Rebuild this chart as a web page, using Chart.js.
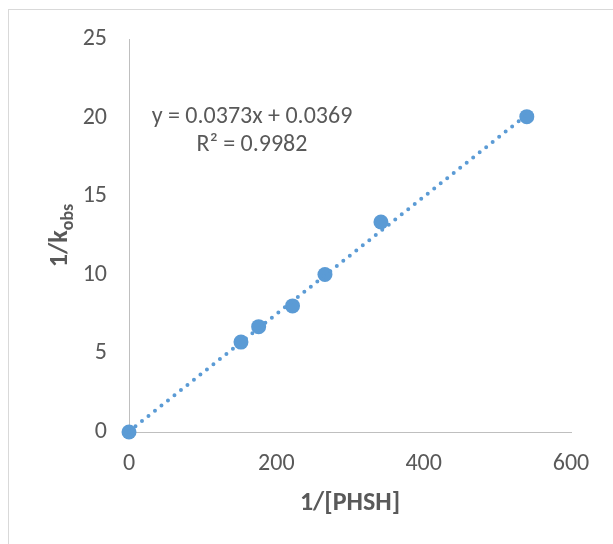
<!DOCTYPE html>
<html>
<head>
<meta charset="utf-8">
<script src="https://cdn.jsdelivr.net/npm/chart.js@4"></script>
<style>
  html, body { margin: 0; padding: 0; background: #fff; }
  canvas { display: block; }
</style>
</head>
<body>
<canvas id="myChart" width="613" height="544"></canvas>
<script>
// data
const phsh = [0, 152, 176, 222, 266, 342, 540];      // 1/[PHSH]
const kobs = [0, 5.72, 6.70, 8.02, 10.02, 13.36, 20.06]; // 1/kobs
// trendline as printed on the chart
const slope = 0.0373;
const intercept = 0.0369;
const fitX = [0, 540];
const eqLines = ['y = 0.0373x + 0.0369', 'R\u00b2 = 0.9982'];

const xTicks = [0, 200, 400, 600];
const yTicks = [0, 5, 10, 15, 20, 25];

const blue = '#5b9bd5';
const grey = '#595959';
const fontFam = 'Carlito, Calibri, Lato, sans-serif';

let points = phsh.map(function(v, i) { return {x: v, y: kobs[i]}; });
let fit = fitX.map(function(v) { return {x: v, y: slope * v + intercept}; });

// chart border, y title with subscript, equation label
const extras = {
  id: 'extras',
  beforeDraw(chart) {
    const c = chart.ctx;
    c.save();
    c.fillStyle = '#fff';
    c.fillRect(0, 0, chart.width, chart.height);
    c.strokeStyle = '#d9d9d9';
    c.lineWidth = 1;
    c.strokeRect(8.5, 9.5, 800, 800);
    c.restore();
  },
  afterDraw(chart) {
    const c = chart.ctx;
    const area = chart.chartArea;
    c.save();
    // y axis title 1/k_obs
    c.translate(62, (area.top + area.bottom) / 2);
    c.rotate(-Math.PI / 2);
    c.fillStyle = grey;
    c.textBaseline = 'alphabetic';
    const main = 'bold 26px ' + fontFam;
    const sub = 'bold 18px ' + fontFam;
    c.font = main;
    const w1 = c.measureText('1/k').width;
    c.font = sub;
    const w2 = c.measureText('obs').width;
    let x0 = -(w1 + w2) / 2;
    c.font = main;
    c.fillText('1/k', x0, 5);
    c.font = sub;
    c.fillText('obs', x0 + w1, 11);
    c.restore();

    // trendline equation
    c.save();
    c.fillStyle = grey;
    c.font = '24px ' + fontFam;
    c.textAlign = 'center';
    c.textBaseline = 'middle';
    c.fillText(eqLines[0], 252, 117);
    c.fillText(eqLines[1], 252, 145);
    c.restore();
  }
};

var ctx = document.getElementById('myChart');
var myChart = new Chart(ctx, {
  type: 'scatter',
  data: {
    datasets: [{
      label: 'fit',
      data: fit,
      showLine: true,
      borderColor: blue,
      borderWidth: 4,
      borderDash: [0, 8.3],
      borderCapStyle: 'round',
      pointRadius: 0,
      clip: false,
      order: 0
    }, {
      label: '1/kobs',
      data: points,
      backgroundColor: blue,
      borderColor: blue,
      borderWidth: 0,
      pointRadius: 7.5,
      clip: false,
      order: 1
    }]
  },
  options: {
    responsive: false,
    devicePixelRatio: 1,
    animation: false,
    layout: { padding: { left: 0, right: 42, top: 39, bottom: 0 } },
    plugins: {
      legend: { display: false },
      tooltip: { enabled: false }
    },
    scales: {
      x: {
        type: 'linear',
        min: 0,
        max: 600,
        afterFit: function(scale) { scale.height = 112; },
        afterBuildTicks: function(scale) { scale.ticks = xTicks.map(function(v) { return {value: v}; }); },
        grid: { drawOnChartArea: false, drawTicks: false },
        border: { color: '#bfbfbf', width: 1 },
        ticks: { color: grey, padding: 18, font: { family: fontFam, size: 24 } },
        title: {
          display: true,
          text: '1/[PHSH]',
          color: grey,
          font: { family: fontFam, size: 26, weight: 'bold' },
          padding: { top: 0, bottom: 25 }
        }
      },
      y: {
        type: 'linear',
        min: 0,
        max: 25,
        afterFit: function(scale) { scale.width = 129; },
        afterBuildTicks: function(scale) { scale.ticks = yTicks.map(function(v) { return {value: v}; }); },
        grid: { drawOnChartArea: false, drawTicks: false },
        border: { color: '#bfbfbf', width: 1 },
        ticks: { color: grey, padding: 22, font: { family: fontFam, size: 24 } }
      }
    }
  },
  plugins: [extras]
});
</script>
</body>
</html>
